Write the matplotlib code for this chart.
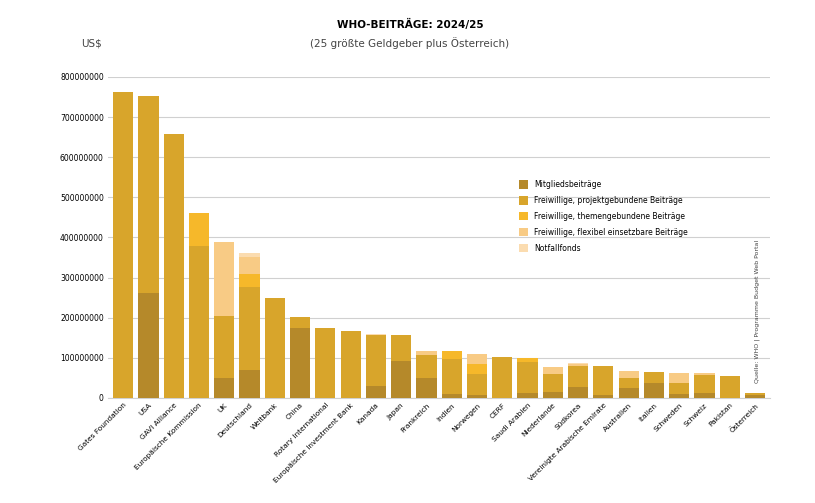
import matplotlib
matplotlib.use("Agg")
import matplotlib.pyplot as plt
import numpy as np

categories = ["Gates Foundation","USA","GAVI Alliance","Europäische Kommission","UK","Deutschland",
 "Weltbank","China","Rotary International","Europäische Investment Bank","Kanada","Japan","Frankreich",
 "Indien","Norwegen","CERF","Saudi Arabien","Niederlande","Südkorea","Vereinigte Arabische Emirate",
 "Australien","Italien","Schweden","Schweiz","Pakistan","Österreich"]
mitglied = [0,262,0,0,50,70,0,175,0,0,30,92,50,10,7,0,12,15,28,7,25,37,10,12,0,6]
projekt  = [763,491,658,379,154,207,249,27,175,167,127,65,57,88,53,102,78,45,52,73,25,28,28,45,55,7]
themen   = [0,0,0,82,0,32,0,0,0,0,0,0,0,19,25,0,10,0,0,0,0,0,0,0,0,0]
flexibel = [0,0,0,0,185,43,0,0,0,0,0,0,10,0,25,0,0,17,5,0,18,0,24,5,0,0]
notfall  = [0,0,0,0,0,10,0,0,0,0,3,0,0,0,0,0,0,0,2,0,0,0,0,0,0,0]
series = [("Mitgliedsbeiträge", mitglied, "#b5892a"),
          ("Freiwillige, projektgebundene Beiträge", projekt, "#d8a52b"),
          ("Freiwillige, themengebundene Beiträge", themen, "#f6b82a"),
          ("Freiwillige, flexibel einsetzbare Beiträge", flexibel, "#f8cb85"),
          ("Notfallfonds", notfall, "#fbdcb0")]

plt.rcParams['font.family'] = ['DejaVu Sans']
fig = plt.figure(figsize=(8.15,5.03), dpi=100)
ax = fig.add_axes([0.1325,0.209,0.8125,0.638])
x = np.arange(len(categories))
bottom = np.zeros(len(categories))
for name, vals, col in series:
    v = np.array(vals)*1e6
    ax.bar(x, v, 0.8, bottom=bottom, color=col, label=name, zorder=3)
    bottom += v
ax.set_ylim(0, 800e6)
ax.set_xlim(-0.6, len(categories)-0.4)
yt = np.arange(0, 800e6+1, 100e6)
ax.set_yticks(yt)
ax.set_yticklabels([f"{int(t)}" for t in yt], fontsize=5.5)
ax.set_xticks(x)
ax.set_xticklabels(categories, rotation=45, ha="right", rotation_mode="anchor", fontsize=5.3)
ax.grid(axis="y", color="#d0d0d0", lw=0.8, zorder=0)
for s in ["top","right","left"]:
    ax.spines[s].set_visible(False)
ax.spines["bottom"].set_color("#d0d0d0")
ax.tick_params(length=0, pad=3)
leg = ax.legend(loc="upper left", bbox_to_anchor=(0.61,0.70), frameon=False, fontsize=5.5,
                handlelength=1.2, handleheight=1.3, labelspacing=0.9)
fig.text(0.503, 0.945, "WHO-BEITRÄGE: 2024/25", ha="center", fontsize=7.5, weight="bold")
fig.text(0.503, 0.907, "(25 größte Geldgeber plus Österreich)", ha="center", fontsize=7.5, color="#444444")
fig.text(0.1, 0.907, "US$", fontsize=7.5, color="#444444")
fig.text(0.929, 0.38, "Quelle: WHO | Programme Budget Web Portal", rotation=90, fontsize=4.5,
         ha="center", va="center", color="#444444")
fig.savefig("out.png", dpi=100, facecolor="white")
